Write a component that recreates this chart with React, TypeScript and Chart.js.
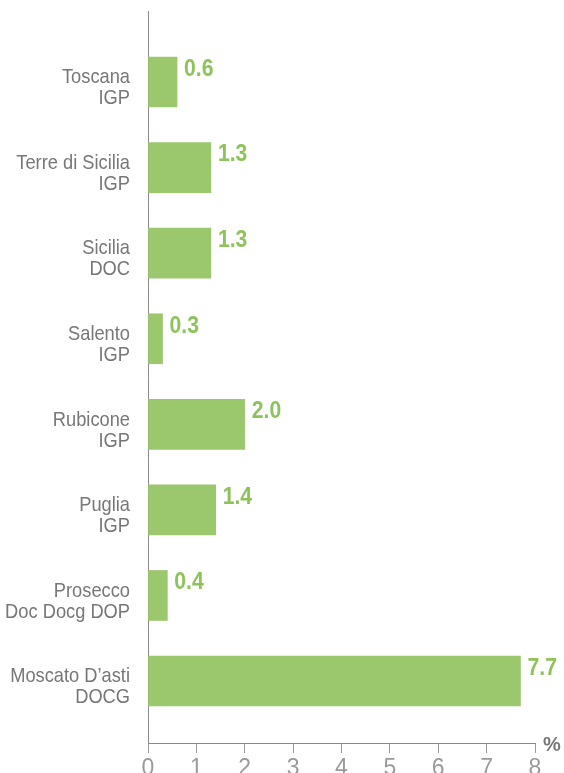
import React, { useEffect, useRef } from "react";
import { Chart, registerables } from "chart.js";

Chart.register(...registerables);

const categories: string[][] = [
  ["Toscana", "IGP"],
  ["Terre di Sicilia", "IGP"],
  ["Sicilia", "DOC"],
  ["Salento", "IGP"],
  ["Rubicone", "IGP"],
  ["Puglia", "IGP"],
  ["Prosecco", "Doc Docg DOP"],
  ["Moscato D\u2019asti", "DOCG"],
];
const values: number[] = [0.6, 1.3, 1.3, 0.3, 2.0, 1.4, 0.4, 7.7];
const xTicks: number[] = [0, 1, 2, 3, 4, 5, 6, 7, 8];
const unitLabel = "%";

const FONT = "'Liberation Sans', Arial, Helvetica, sans-serif";
const GREEN = "#9bc76d";
const LABEL_GREEN = "#8ec35c";
const Y_PAD = 18;
const NARROW = 0.87;

const valueLabels = {
  id: "valueLabels",
  afterDatasetsDraw(chart: any) {
    const ctx = chart.ctx;
    const meta = chart.getDatasetMeta(0);
    ctx.save();
    ctx.font = `bold 23px ${FONT}`;
    ctx.fillStyle = LABEL_GREEN;
    ctx.textAlign = "left";
    ctx.textBaseline = "top";
    meta.data.forEach((bar: any, i: number) => {
      const top = bar.y - bar.height / 2;
      ctx.save();
      const x0 = bar.x + 7;
      ctx.translate(x0 * (1 - 0.92), 0);
      ctx.scale(0.92, 1);
      ctx.fillText(values[i].toFixed(1), x0, top + 1);
      ctx.restore();
    });
    const x = chart.scales.x;
    ctx.font = `bold 20px ${FONT}`;
    ctx.fillStyle = "#777777";
    ctx.textBaseline = "alphabetic";
    ctx.fillText(unitLabel, x.right + 8, x.top + 8);
    ctx.restore();
  },
};

export default function App() {
  const ref = useRef<HTMLCanvasElement>(null);
  useEffect(() => {
    if (!ref.current) return;
    const chart = new Chart(ref.current, {
      type: "bar",
      data: {
        labels: categories,
        datasets: [
          {
            data: values,
            backgroundColor: GREEN,
            borderWidth: 0,
            barThickness: 50,
          },
        ],
      },
      options: {
        indexAxis: "y",
        animation: false,
        responsive: false,
        maintainAspectRatio: false,
        layout: { padding: { top: 11, right: 29, left: 0, bottom: 0 } },
        plugins: {
          legend: { display: false },
          tooltip: { enabled: false },
        },
        scales: {
          x: {
            type: "linear",
            min: xTicks[0],
            max: xTicks[xTicks.length - 1],
            afterBuildTicks: (scale: any) => {
              scale.ticks = xTicks.map((v) => ({ value: v }));
            },
            afterFit: (scale: any) => {
              scale.height = 30;
              scale.paddingLeft = 0;
              scale.paddingRight = 0;
            },
            grid: {
              display: true,
              drawOnChartArea: false,
              drawTicks: true,
              tickLength: 10,
              color: "#9a9a9a",
              lineWidth: 1,
            },
            border: { display: true, color: "#8a8a8a", width: 1 },
            ticks: {
              padding: 2,
              color: "#9a9a9a",
              font: { family: FONT, size: 23 },
              maxRotation: 0,
              autoSkip: false,
            },
          },
          y: {
            type: "category",
            offset: false,
            afterBuildTicks: (scale: any) => {
              scale._startValue = -0.83;
              scale._valueRange = 8.554;
            },
            afterFit: (scale: any) => {
              scale.width = 148;
              scale.paddingTop = 0;
              scale.paddingBottom = 0;
              if (!scale._narrowPatched) {
                const orig = scale.drawLabels.bind(scale);
                scale._computeLabelArea = () => null;
                scale.drawLabels = (area: any) => {
                  const ctx = scale.ctx;
                  const ax = scale.right - Y_PAD;
                  ctx.save();
                  ctx.translate(ax * (1 - NARROW), 6);
                  ctx.scale(NARROW, 1);
                  orig(area);
                  ctx.restore();
                };
                scale._narrowPatched = true;
              }
            },
            grid: { display: false, drawTicks: false },
            border: { display: true, color: "#8a8a8a", width: 1 },
            ticks: {
              padding: Y_PAD,
              color: "#777777",
              font: { family: FONT, size: 21, lineHeight: 1.0 },
              autoSkip: false,
            },
          },
        },
      },
      plugins: [valueLabels],
    });
    return () => chart.destroy();
  }, []);
  return (
    <div style={{ position: "fixed", left: 0, top: 0, width: 564, height: 773, background: "#fff" }}>
      <canvas ref={ref} width={564} height={773} style={{ width: 564, height: 773, display: "block" }} />
    </div>
  );
}
